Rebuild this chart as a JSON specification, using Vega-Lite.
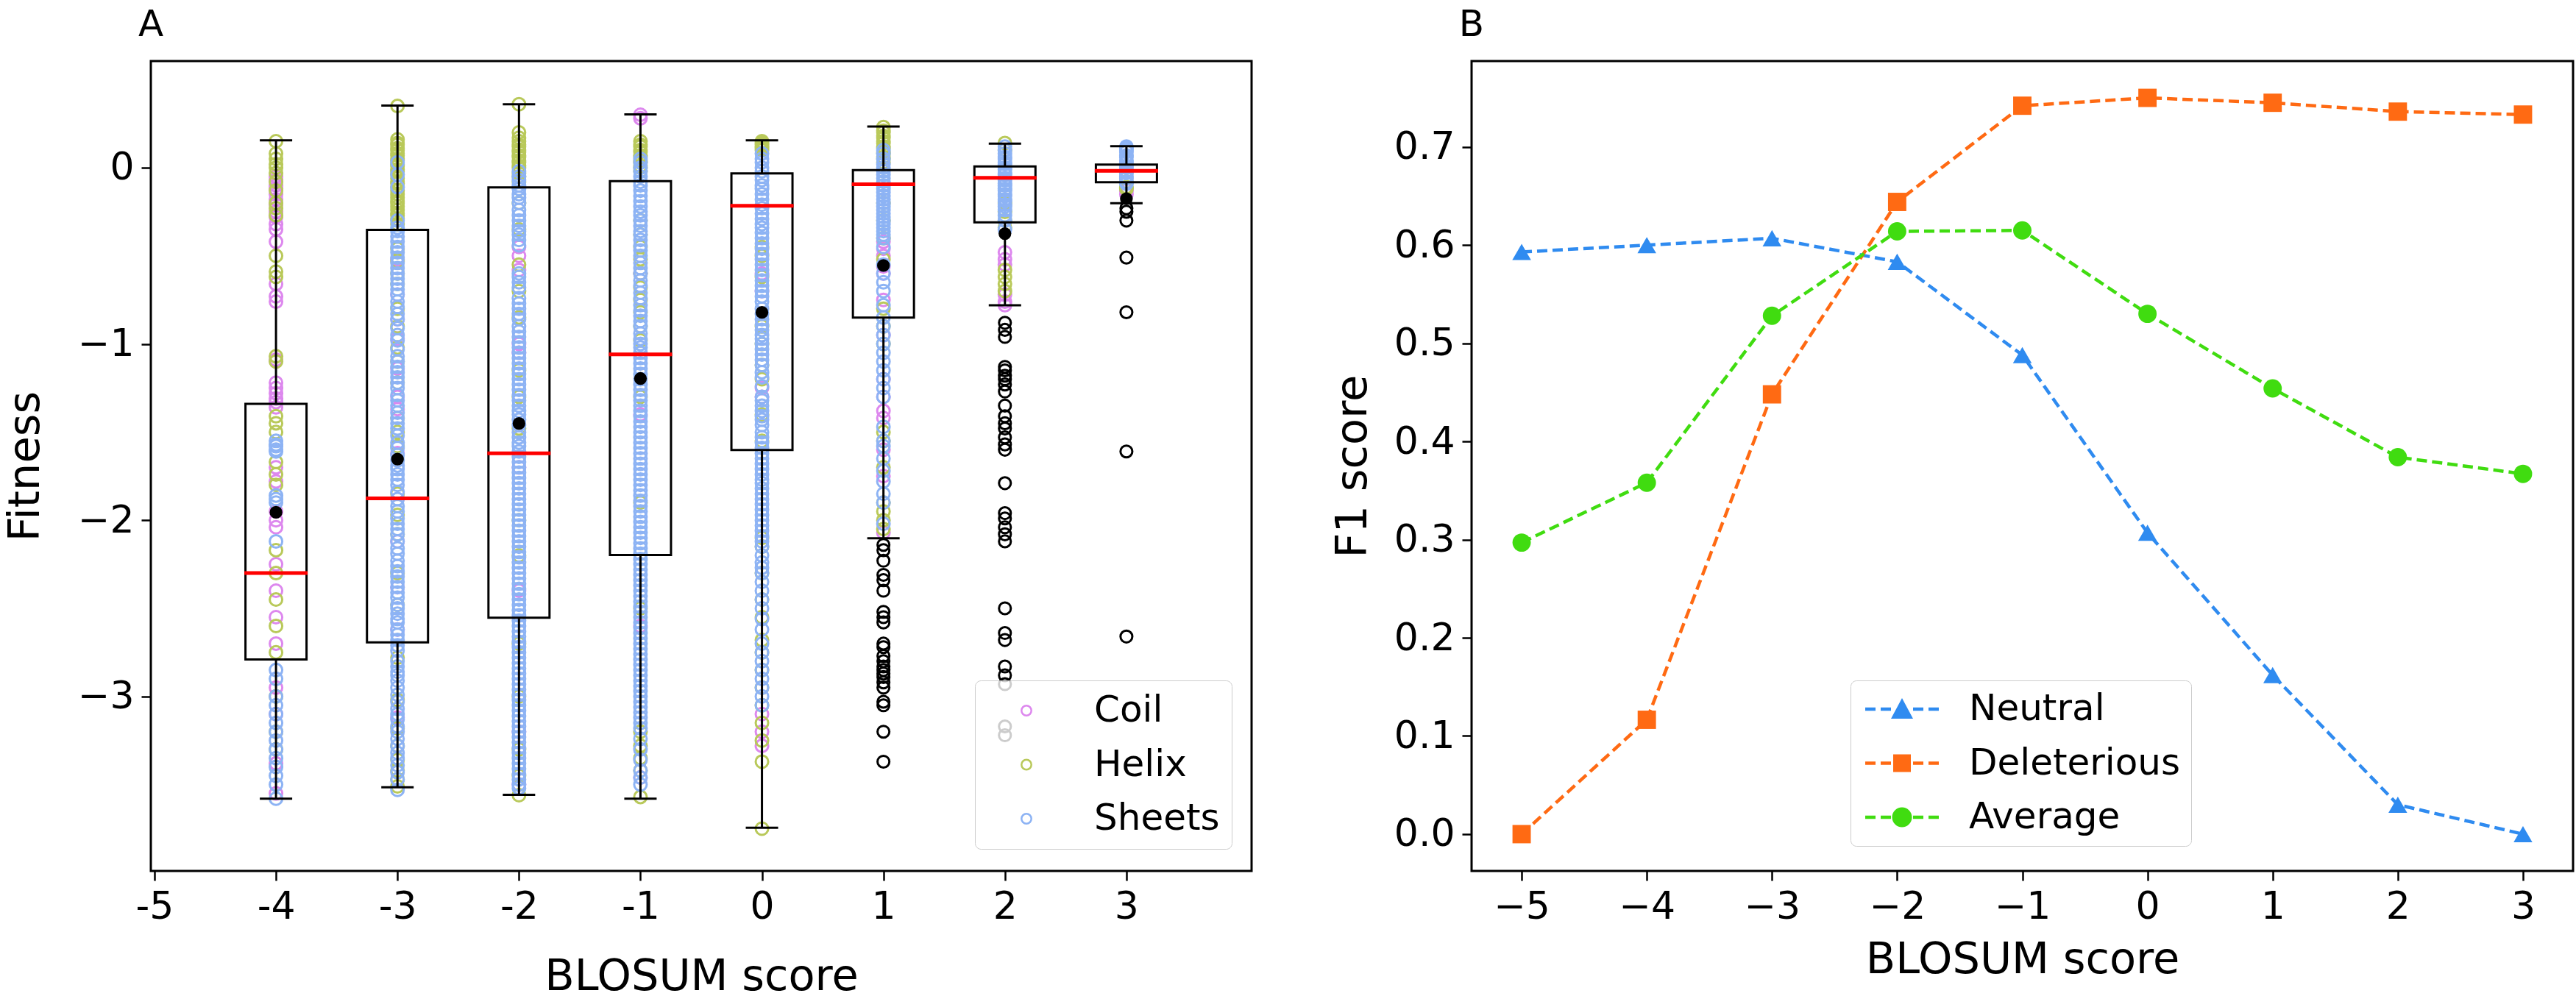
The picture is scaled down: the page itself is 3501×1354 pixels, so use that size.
{
"$schema": "https://vega.github.io/schema/vega-lite/v6.json",
"background": "white",
"padding": {"left": 3, "top": 7, "right": 0, "bottom": 0},
"config": {
  "font": "DejaVu Sans",
  "view": {"stroke": "black", "strokeWidth": 3},
  "axis": {"domain": false, "grid": false, "ticks": true, "tickColor": "black", "tickWidth": 2.5, "tickSize": 13, "labelPadding": 10, "labelFontSize": 52, "labelColor": "black", "labelFont": "DejaVu Sans", "titleFont": "DejaVu Sans", "titleFontSize": 59, "titleFontWeight": "normal", "titleColor": "black", "labelFlush": false, "labelOverlap": false, "labelBound": false},
  "legend": {"labelFont": "DejaVu Sans", "labelColor": "black", "labelFontSize": 50, "labelLimit": 800}
},
"resolve": {"scale": {"color": "independent", "shape": "independent"}, "legend": {"color": "independent", "shape": "independent"}},
"datasets": {
"box": [
{"b":-4,"whi":0.155,"q3":-1.34,"med":-2.30,"q1":-2.79,"wlo":-3.58,"mean":-1.955},
{"b":-3,"whi":0.353,"q3":-0.353,"med":-1.876,"q1":-2.693,"wlo":-3.515,"mean":-1.653},
{"b":-2,"whi":0.36,"q3":-0.112,"med":-1.62,"q1":-2.553,"wlo":-3.558,"mean":-1.451},
{"b":-1,"whi":0.302,"q3":-0.076,"med":-1.059,"q1":-2.197,"wlo":-3.58,"mean":-1.196},
{"b":0,"whi":0.155,"q3":-0.032,"med":-0.216,"q1":-1.602,"wlo":-3.745,"mean":-0.821},
{"b":1,"whi":0.234,"q3":-0.014,"med":-0.094,"q1":-0.85,"wlo":-2.103,"mean":-0.555},
{"b":2,"whi":0.137,"q3":0.007,"med":-0.058,"q1":-0.31,"wlo":-0.781,"mean":-0.374},
{"b":3,"whi":0.122,"q3":0.018,"med":-0.018,"q1":-0.083,"wlo":-0.202,"mean":-0.176}
],
"fl": [
{"b":1,"f":-2.14},{"b":1,"f":-2.17},{"b":1,"f":-2.23},{"b":1,"f":-2.31},{"b":1,"f":-2.34},{"b":1,"f":-2.4},{"b":1,"f":-2.52},{"b":1,"f":-2.55},{"b":1,"f":-2.58},{"b":1,"f":-2.7},{"b":1,"f":-2.72},{"b":1,"f":-2.77},{"b":1,"f":-2.8},{"b":1,"f":-2.83},{"b":1,"f":-2.85},{"b":1,"f":-2.87},{"b":1,"f":-2.89},{"b":1,"f":-2.92},{"b":1,"f":-2.95},{"b":1,"f":-3.03},{"b":1,"f":-3.05},{"b":1,"f":-3.2},{"b":1,"f":-3.37},
{"b":2,"f":-0.88},{"b":2,"f":-0.92},{"b":2,"f":-0.96},{"b":2,"f":-1.13},{"b":2,"f":-1.15},{"b":2,"f":-1.18},{"b":2,"f":-1.2},{"b":2,"f":-1.23},{"b":2,"f":-1.27},{"b":2,"f":-1.35},{"b":2,"f":-1.41},{"b":2,"f":-1.45},{"b":2,"f":-1.48},{"b":2,"f":-1.53},{"b":2,"f":-1.57},{"b":2,"f":-1.6},{"b":2,"f":-1.79},{"b":2,"f":-1.96},{"b":2,"f":-1.99},{"b":2,"f":-2.04},{"b":2,"f":-2.08},{"b":2,"f":-2.12},{"b":2,"f":-2.5},{"b":2,"f":-2.64},{"b":2,"f":-2.68},{"b":2,"f":-2.83},{"b":2,"f":-2.88},{"b":2,"f":-2.93},{"b":2,"f":-3.17},{"b":2,"f":-3.22},
{"b":3,"f":-0.23},{"b":3,"f":-0.25},{"b":3,"f":-0.3},{"b":3,"f":-0.51},{"b":3,"f":-0.82},{"b":3,"f":-1.61},{"b":3,"f":-2.66}
],
"f1": [
{"b":-5,"series":"Neutral","f1":0.593},{"b":-4,"series":"Neutral","f1":0.600},{"b":-3,"series":"Neutral","f1":0.607},{"b":-2,"series":"Neutral","f1":0.583},{"b":-1,"series":"Neutral","f1":0.488},{"b":0,"series":"Neutral","f1":0.307},{"b":1,"series":"Neutral","f1":0.162},{"b":2,"series":"Neutral","f1":0.030},{"b":3,"series":"Neutral","f1":0.000},
{"b":-5,"series":"Deleterious","f1":0.000},{"b":-4,"series":"Deleterious","f1":0.1165},{"b":-3,"series":"Deleterious","f1":0.448},{"b":-2,"series":"Deleterious","f1":0.644},{"b":-1,"series":"Deleterious","f1":0.742},{"b":0,"series":"Deleterious","f1":0.750},{"b":1,"series":"Deleterious","f1":0.745},{"b":2,"series":"Deleterious","f1":0.736},{"b":3,"series":"Deleterious","f1":0.733},
{"b":-5,"series":"Average","f1":0.297},{"b":-4,"series":"Average","f1":0.358},{"b":-3,"series":"Average","f1":0.528},{"b":-2,"series":"Average","f1":0.614},{"b":-1,"series":"Average","f1":0.615},{"b":0,"series":"Average","f1":0.530},{"b":1,"series":"Average","f1":0.454},{"b":2,"series":"Average","f1":0.384},{"b":3,"series":"Average","f1":0.367}
],
"pts": [
{"b":-4,"s":"Coil","f":-0.05},{"b":-4,"s":"Coil","f":-0.07},{"b":-4,"s":"Coil","f":-0.1},{"b":-4,"s":"Coil","f":-0.12},{"b":-4,"s":"Coil","f":-0.15},{"b":-4,"s":"Coil","f":-0.18},{"b":-4,"s":"Coil","f":-0.21},{"b":-4,"s":"Coil","f":-0.25},{"b":-4,"s":"Coil","f":-0.28},{"b":-4,"s":"Coil","f":-0.32},{"b":-4,"s":"Coil","f":-0.35},{"b":-4,"s":"Coil","f":-0.42},{"b":-4,"s":"Coil","f":-0.66},{"b":-4,"s":"Coil","f":-0.73},{"b":-4,"s":"Coil","f":-0.76},{"b":-4,"s":"Coil","f":-1.09},{"b":-4,"s":"Coil","f":-1.22},{"b":-4,"s":"Coil","f":-1.25},{"b":-4,"s":"Coil","f":-1.28},{"b":-4,"s":"Coil","f":-1.31},{"b":-4,"s":"Coil","f":-1.33},{"b":-4,"s":"Coil","f":-1.36},{"b":-4,"s":"Coil","f":-1.7},{"b":-4,"s":"Coil","f":-1.78},{"b":-4,"s":"Coil","f":-1.95},{"b":-4,"s":"Coil","f":-2.0},{"b":-4,"s":"Coil","f":-2.04},{"b":-4,"s":"Coil","f":-2.25},{"b":-4,"s":"Coil","f":-2.4},{"b":-4,"s":"Coil","f":-2.55},{"b":-4,"s":"Coil","f":-2.7},{"b":-4,"s":"Coil","f":-2.95},{"b":-4,"s":"Coil","f":-3.1},{"b":-4,"s":"Coil","f":-3.38},{"b":-4,"s":"Coil","f":-3.55},
{"b":-3,"s":"Coil","f":-0.52},{"b":-3,"s":"Coil","f":-0.72},{"b":-3,"s":"Coil","f":-0.86},{"b":-3,"s":"Coil","f":-0.97},{"b":-3,"s":"Coil","f":-1.14},{"b":-3,"s":"Coil","f":-1.3},{"b":-3,"s":"Coil","f":-1.37},{"b":-3,"s":"Coil","f":-1.62},{"b":-3,"s":"Coil","f":-2.12},{"b":-3,"s":"Coil","f":-2.38},{"b":-3,"s":"Coil","f":-2.62},{"b":-3,"s":"Coil","f":-3.12},
{"b":-2,"s":"Coil","f":-0.45},{"b":-2,"s":"Coil","f":-0.5},{"b":-2,"s":"Coil","f":-0.58},{"b":-2,"s":"Coil","f":-1.0},{"b":-2,"s":"Coil","f":-1.05},{"b":-2,"s":"Coil","f":-1.7},{"b":-2,"s":"Coil","f":-2.4},{"b":-2,"s":"Coil","f":-3.2},{"b":-2,"s":"Coil","f":-3.5},
{"b":-1,"s":"Coil","f":0.3},{"b":-1,"s":"Coil","f":0.28},{"b":-1,"s":"Coil","f":-0.6},{"b":-1,"s":"Coil","f":-1.4},{"b":-1,"s":"Coil","f":-2.6},{"b":-1,"s":"Coil","f":-3.46},
{"b":0,"s":"Coil","f":-0.6},{"b":0,"s":"Coil","f":-0.7},{"b":0,"s":"Coil","f":-1.25},{"b":0,"s":"Coil","f":-1.3},{"b":0,"s":"Coil","f":-3.1},{"b":0,"s":"Coil","f":-3.2},{"b":0,"s":"Coil","f":-3.28},
{"b":1,"s":"Coil","f":-0.42},{"b":1,"s":"Coil","f":-0.46},{"b":1,"s":"Coil","f":-0.5},{"b":1,"s":"Coil","f":-0.56},{"b":1,"s":"Coil","f":-0.6},{"b":1,"s":"Coil","f":-0.75},{"b":1,"s":"Coil","f":-0.95},{"b":1,"s":"Coil","f":-1.2},{"b":1,"s":"Coil","f":-1.3},{"b":1,"s":"Coil","f":-1.38},{"b":1,"s":"Coil","f":-1.42},{"b":1,"s":"Coil","f":-1.6},{"b":1,"s":"Coil","f":-1.75},{"b":1,"s":"Coil","f":-2.07},
{"b":2,"s":"Coil","f":-0.48},{"b":2,"s":"Coil","f":-0.52},{"b":2,"s":"Coil","f":-0.55},{"b":2,"s":"Coil","f":-0.72},{"b":2,"s":"Coil","f":-0.76},{"b":2,"s":"Coil","f":-0.78},
{"b":3,"s":"Coil","f":-0.13},{"b":3,"s":"Coil","f":-0.15},
{"b":-4,"s":"Helix","f":0.15},{"b":-4,"s":"Helix","f":0.08},{"b":-4,"s":"Helix","f":0.05},{"b":-4,"s":"Helix","f":0.02},{"b":-4,"s":"Helix","f":0.0},{"b":-4,"s":"Helix","f":-0.03},{"b":-4,"s":"Helix","f":-0.08},{"b":-4,"s":"Helix","f":-0.13},{"b":-4,"s":"Helix","f":-0.2},{"b":-4,"s":"Helix","f":-0.23},{"b":-4,"s":"Helix","f":-0.27},{"b":-4,"s":"Helix","f":-0.5},{"b":-4,"s":"Helix","f":-0.59},{"b":-4,"s":"Helix","f":-0.62},{"b":-4,"s":"Helix","f":-1.07},{"b":-4,"s":"Helix","f":-1.1},{"b":-4,"s":"Helix","f":-1.41},{"b":-4,"s":"Helix","f":-1.45},{"b":-4,"s":"Helix","f":-1.5},{"b":-4,"s":"Helix","f":-1.67},{"b":-4,"s":"Helix","f":-1.74},{"b":-4,"s":"Helix","f":-1.8},{"b":-4,"s":"Helix","f":-2.17},{"b":-4,"s":"Helix","f":-2.3},{"b":-4,"s":"Helix","f":-2.45},{"b":-4,"s":"Helix","f":-2.6},{"b":-4,"s":"Helix","f":-2.75},{"b":-4,"s":"Helix","f":-3.0},{"b":-4,"s":"Helix","f":-3.2},{"b":-4,"s":"Helix","f":-3.3},
{"b":-3,"s":"Helix","f":0.35},{"b":-3,"s":"Helix","f":0.16},{"b":-3,"s":"Helix","f":0.14},{"b":-3,"s":"Helix","f":0.13},{"b":-3,"s":"Helix","f":0.11},{"b":-3,"s":"Helix","f":0.1},{"b":-3,"s":"Helix","f":0.08},{"b":-3,"s":"Helix","f":0.07},{"b":-3,"s":"Helix","f":0.05},{"b":-3,"s":"Helix","f":0.04},{"b":-3,"s":"Helix","f":0.02},{"b":-3,"s":"Helix","f":0.01},{"b":-3,"s":"Helix","f":-0.01},{"b":-3,"s":"Helix","f":-0.02},{"b":-3,"s":"Helix","f":-0.04},{"b":-3,"s":"Helix","f":-0.06},{"b":-3,"s":"Helix","f":-0.08},{"b":-3,"s":"Helix","f":-0.09},{"b":-3,"s":"Helix","f":-0.11},{"b":-3,"s":"Helix","f":-0.13},{"b":-3,"s":"Helix","f":-0.15},{"b":-3,"s":"Helix","f":-0.17},{"b":-3,"s":"Helix","f":-0.19},{"b":-3,"s":"Helix","f":-0.2},{"b":-3,"s":"Helix","f":-0.22},{"b":-3,"s":"Helix","f":-0.24},{"b":-3,"s":"Helix","f":-0.26},{"b":-3,"s":"Helix","f":-0.27},{"b":-3,"s":"Helix","f":-0.29},{"b":-3,"s":"Helix","f":-0.32},{"b":-3,"s":"Helix","f":-0.46},{"b":-3,"s":"Helix","f":-0.53},{"b":-3,"s":"Helix","f":-0.6},{"b":-3,"s":"Helix","f":-0.66},{"b":-3,"s":"Helix","f":-0.8},{"b":-3,"s":"Helix","f":-0.9},{"b":-3,"s":"Helix","f":-1.02},{"b":-3,"s":"Helix","f":-1.1},{"b":-3,"s":"Helix","f":-1.22},{"b":-3,"s":"Helix","f":-1.42},{"b":-3,"s":"Helix","f":-1.5},{"b":-3,"s":"Helix","f":-1.58},{"b":-3,"s":"Helix","f":-1.85},{"b":-3,"s":"Helix","f":-1.97},{"b":-3,"s":"Helix","f":-2.08},{"b":-3,"s":"Helix","f":-2.3},{"b":-3,"s":"Helix","f":-2.48},{"b":-3,"s":"Helix","f":-2.78},{"b":-3,"s":"Helix","f":-3.02},{"b":-3,"s":"Helix","f":-3.18},{"b":-3,"s":"Helix","f":-3.28},{"b":-3,"s":"Helix","f":-3.36},{"b":-3,"s":"Helix","f":-3.42},{"b":-3,"s":"Helix","f":-3.47},{"b":-3,"s":"Helix","f":-3.51},
{"b":-2,"s":"Helix","f":0.36},{"b":-2,"s":"Helix","f":0.2},{"b":-2,"s":"Helix","f":0.17},{"b":-2,"s":"Helix","f":0.15},{"b":-2,"s":"Helix","f":0.13},{"b":-2,"s":"Helix","f":0.12},{"b":-2,"s":"Helix","f":0.1},{"b":-2,"s":"Helix","f":0.09},{"b":-2,"s":"Helix","f":0.07},{"b":-2,"s":"Helix","f":0.06},{"b":-2,"s":"Helix","f":0.04},{"b":-2,"s":"Helix","f":0.03},{"b":-2,"s":"Helix","f":0.01},{"b":-2,"s":"Helix","f":0.0},{"b":-2,"s":"Helix","f":-0.03},{"b":-2,"s":"Helix","f":-0.05},{"b":-2,"s":"Helix","f":-0.08},{"b":-2,"s":"Helix","f":-0.2},{"b":-2,"s":"Helix","f":-0.35},{"b":-2,"s":"Helix","f":-0.55},{"b":-2,"s":"Helix","f":-0.7},{"b":-2,"s":"Helix","f":-0.85},{"b":-2,"s":"Helix","f":-1.15},{"b":-2,"s":"Helix","f":-1.3},{"b":-2,"s":"Helix","f":-1.48},{"b":-2,"s":"Helix","f":-2.0},{"b":-2,"s":"Helix","f":-2.2},{"b":-2,"s":"Helix","f":-2.7},{"b":-2,"s":"Helix","f":-3.0},{"b":-2,"s":"Helix","f":-3.3},{"b":-2,"s":"Helix","f":-3.45},{"b":-2,"s":"Helix","f":-3.56},
{"b":-1,"s":"Helix","f":0.15},{"b":-1,"s":"Helix","f":0.13},{"b":-1,"s":"Helix","f":0.12},{"b":-1,"s":"Helix","f":0.1},{"b":-1,"s":"Helix","f":0.09},{"b":-1,"s":"Helix","f":0.07},{"b":-1,"s":"Helix","f":0.06},{"b":-1,"s":"Helix","f":0.04},{"b":-1,"s":"Helix","f":0.03},{"b":-1,"s":"Helix","f":0.01},{"b":-1,"s":"Helix","f":0.0},{"b":-1,"s":"Helix","f":-0.02},{"b":-1,"s":"Helix","f":-0.3},{"b":-1,"s":"Helix","f":-0.38},{"b":-1,"s":"Helix","f":-0.45},{"b":-1,"s":"Helix","f":-0.52},{"b":-1,"s":"Helix","f":-0.6},{"b":-1,"s":"Helix","f":-0.68},{"b":-1,"s":"Helix","f":-0.75},{"b":-1,"s":"Helix","f":-0.82},{"b":-1,"s":"Helix","f":-0.9},{"b":-1,"s":"Helix","f":-0.98},{"b":-1,"s":"Helix","f":-1.3},{"b":-1,"s":"Helix","f":-1.9},{"b":-1,"s":"Helix","f":-2.5},{"b":-1,"s":"Helix","f":-3.2},{"b":-1,"s":"Helix","f":-3.28},{"b":-1,"s":"Helix","f":-3.35},{"b":-1,"s":"Helix","f":-3.42},{"b":-1,"s":"Helix","f":-3.57},
{"b":0,"s":"Helix","f":0.15},{"b":0,"s":"Helix","f":0.14},{"b":0,"s":"Helix","f":0.13},{"b":0,"s":"Helix","f":0.12},{"b":0,"s":"Helix","f":0.11},{"b":0,"s":"Helix","f":0.1},{"b":0,"s":"Helix","f":-0.45},{"b":0,"s":"Helix","f":-0.5},{"b":0,"s":"Helix","f":-0.62},{"b":0,"s":"Helix","f":-0.9},{"b":0,"s":"Helix","f":-1.0},{"b":0,"s":"Helix","f":-1.12},{"b":0,"s":"Helix","f":-1.2},{"b":0,"s":"Helix","f":-1.4},{"b":0,"s":"Helix","f":-1.55},{"b":0,"s":"Helix","f":-2.1},{"b":0,"s":"Helix","f":-2.15},{"b":0,"s":"Helix","f":-2.3},{"b":0,"s":"Helix","f":-2.45},{"b":0,"s":"Helix","f":-2.55},{"b":0,"s":"Helix","f":-2.68},{"b":0,"s":"Helix","f":-2.75},{"b":0,"s":"Helix","f":-2.85},{"b":0,"s":"Helix","f":-2.95},{"b":0,"s":"Helix","f":-3.05},{"b":0,"s":"Helix","f":-3.15},{"b":0,"s":"Helix","f":-3.25},{"b":0,"s":"Helix","f":-3.37},{"b":0,"s":"Helix","f":-3.75},
{"b":1,"s":"Helix","f":0.23},{"b":1,"s":"Helix","f":0.21},{"b":1,"s":"Helix","f":0.2},{"b":1,"s":"Helix","f":0.18},{"b":1,"s":"Helix","f":0.17},{"b":1,"s":"Helix","f":0.15},{"b":1,"s":"Helix","f":0.14},{"b":1,"s":"Helix","f":0.12},{"b":1,"s":"Helix","f":0.11},{"b":1,"s":"Helix","f":0.09},{"b":1,"s":"Helix","f":0.08},{"b":1,"s":"Helix","f":0.06},{"b":1,"s":"Helix","f":0.05},{"b":1,"s":"Helix","f":0.03},{"b":1,"s":"Helix","f":-0.2},{"b":1,"s":"Helix","f":-0.3},{"b":1,"s":"Helix","f":-0.4},{"b":1,"s":"Helix","f":-0.52},{"b":1,"s":"Helix","f":-0.8},{"b":1,"s":"Helix","f":-0.9},{"b":1,"s":"Helix","f":-1.0},{"b":1,"s":"Helix","f":-1.5},{"b":1,"s":"Helix","f":-1.55},{"b":1,"s":"Helix","f":-1.7},{"b":1,"s":"Helix","f":-1.9},{"b":1,"s":"Helix","f":-1.95},{"b":1,"s":"Helix","f":-2.0},{"b":1,"s":"Helix","f":-2.05},
{"b":2,"s":"Helix","f":0.14},{"b":2,"s":"Helix","f":0.1},{"b":2,"s":"Helix","f":-0.2},{"b":2,"s":"Helix","f":-0.25},{"b":2,"s":"Helix","f":-0.3},{"b":2,"s":"Helix","f":-0.34},{"b":2,"s":"Helix","f":-0.58},{"b":2,"s":"Helix","f":-0.62},{"b":2,"s":"Helix","f":-0.66},{"b":2,"s":"Helix","f":-0.7},
{"b":3,"s":"Helix","f":-0.08},{"b":3,"s":"Helix","f":-0.11},{"b":3,"s":"Helix","f":-0.12},
{"b":-4,"s":"Sheets","f":-1.55},{"b":-4,"s":"Sheets","f":-1.57},{"b":-4,"s":"Sheets","f":-1.58},{"b":-4,"s":"Sheets","f":-1.6},{"b":-4,"s":"Sheets","f":-1.61},{"b":-4,"s":"Sheets","f":-1.86},{"b":-4,"s":"Sheets","f":-1.88},{"b":-4,"s":"Sheets","f":-1.9},{"b":-4,"s":"Sheets","f":-2.12},{"b":-4,"s":"Sheets","f":-2.85},{"b":-4,"s":"Sheets","f":-2.9},{"b":-4,"s":"Sheets","f":-3.0},{"b":-4,"s":"Sheets","f":-3.05},{"b":-4,"s":"Sheets","f":-3.1},{"b":-4,"s":"Sheets","f":-3.15},{"b":-4,"s":"Sheets","f":-3.2},{"b":-4,"s":"Sheets","f":-3.25},{"b":-4,"s":"Sheets","f":-3.3},{"b":-4,"s":"Sheets","f":-3.35},{"b":-4,"s":"Sheets","f":-3.4},{"b":-4,"s":"Sheets","f":-3.45},{"b":-4,"s":"Sheets","f":-3.5},{"b":-4,"s":"Sheets","f":-3.58},
{"b":-3,"s":"Sheets","f":0.03},{"b":-3,"s":"Sheets","f":-0.04},{"b":-3,"s":"Sheets","f":-0.11},{"b":-3,"s":"Sheets","f":-0.3},{"b":-3,"s":"Sheets","f":-0.34},{"b":-3,"s":"Sheets","f":-0.36},{"b":-3,"s":"Sheets","f":-0.39},{"b":-3,"s":"Sheets","f":-0.42},{"b":-3,"s":"Sheets","f":-0.45},{"b":-3,"s":"Sheets","f":-0.48},{"b":-3,"s":"Sheets","f":-0.51},{"b":-3,"s":"Sheets","f":-0.54},{"b":-3,"s":"Sheets","f":-0.57},{"b":-3,"s":"Sheets","f":-0.6},{"b":-3,"s":"Sheets","f":-0.63},{"b":-3,"s":"Sheets","f":-0.66},{"b":-3,"s":"Sheets","f":-0.69},{"b":-3,"s":"Sheets","f":-0.72},{"b":-3,"s":"Sheets","f":-0.76},{"b":-3,"s":"Sheets","f":-0.79},{"b":-3,"s":"Sheets","f":-0.83},{"b":-3,"s":"Sheets","f":-0.86},{"b":-3,"s":"Sheets","f":-0.91},{"b":-3,"s":"Sheets","f":-0.95},{"b":-3,"s":"Sheets","f":-0.98},{"b":-3,"s":"Sheets","f":-1.03},{"b":-3,"s":"Sheets","f":-1.07},{"b":-3,"s":"Sheets","f":-1.1},{"b":-3,"s":"Sheets","f":-1.13},{"b":-3,"s":"Sheets","f":-1.16},{"b":-3,"s":"Sheets","f":-1.19},{"b":-3,"s":"Sheets","f":-1.22},{"b":-3,"s":"Sheets","f":-1.25},{"b":-3,"s":"Sheets","f":-1.29},{"b":-3,"s":"Sheets","f":-1.32},{"b":-3,"s":"Sheets","f":-1.35},{"b":-3,"s":"Sheets","f":-1.39},{"b":-3,"s":"Sheets","f":-1.42},{"b":-3,"s":"Sheets","f":-1.45},{"b":-3,"s":"Sheets","f":-1.48},{"b":-3,"s":"Sheets","f":-1.52},{"b":-3,"s":"Sheets","f":-1.56},{"b":-3,"s":"Sheets","f":-1.59},{"b":-3,"s":"Sheets","f":-1.63},{"b":-3,"s":"Sheets","f":-1.66},{"b":-3,"s":"Sheets","f":-1.69},{"b":-3,"s":"Sheets","f":-1.71},{"b":-3,"s":"Sheets","f":-1.74},{"b":-3,"s":"Sheets","f":-1.77},{"b":-3,"s":"Sheets","f":-1.8},{"b":-3,"s":"Sheets","f":-1.84},{"b":-3,"s":"Sheets","f":-1.88},{"b":-3,"s":"Sheets","f":-1.92},{"b":-3,"s":"Sheets","f":-1.95},{"b":-3,"s":"Sheets","f":-1.99},{"b":-3,"s":"Sheets","f":-2.02},{"b":-3,"s":"Sheets","f":-2.05},{"b":-3,"s":"Sheets","f":-2.08},{"b":-3,"s":"Sheets","f":-2.12},{"b":-3,"s":"Sheets","f":-2.16},{"b":-3,"s":"Sheets","f":-2.19},{"b":-3,"s":"Sheets","f":-2.23},{"b":-3,"s":"Sheets","f":-2.26},{"b":-3,"s":"Sheets","f":-2.29},{"b":-3,"s":"Sheets","f":-2.32},{"b":-3,"s":"Sheets","f":-2.35},{"b":-3,"s":"Sheets","f":-2.38},{"b":-3,"s":"Sheets","f":-2.41},{"b":-3,"s":"Sheets","f":-2.44},{"b":-3,"s":"Sheets","f":-2.48},{"b":-3,"s":"Sheets","f":-2.5},{"b":-3,"s":"Sheets","f":-2.53},{"b":-3,"s":"Sheets","f":-2.56},{"b":-3,"s":"Sheets","f":-2.58},{"b":-3,"s":"Sheets","f":-2.62},{"b":-3,"s":"Sheets","f":-2.65},{"b":-3,"s":"Sheets","f":-2.68},{"b":-3,"s":"Sheets","f":-2.71},{"b":-3,"s":"Sheets","f":-2.74},{"b":-3,"s":"Sheets","f":-2.8},{"b":-3,"s":"Sheets","f":-2.83},{"b":-3,"s":"Sheets","f":-2.86},{"b":-3,"s":"Sheets","f":-2.88},{"b":-3,"s":"Sheets","f":-2.91},{"b":-3,"s":"Sheets","f":-2.95},{"b":-3,"s":"Sheets","f":-2.99},{"b":-3,"s":"Sheets","f":-3.03},{"b":-3,"s":"Sheets","f":-3.07},{"b":-3,"s":"Sheets","f":-3.1},{"b":-3,"s":"Sheets","f":-3.13},{"b":-3,"s":"Sheets","f":-3.17},{"b":-3,"s":"Sheets","f":-3.2},{"b":-3,"s":"Sheets","f":-3.24},{"b":-3,"s":"Sheets","f":-3.28},{"b":-3,"s":"Sheets","f":-3.32},{"b":-3,"s":"Sheets","f":-3.35},{"b":-3,"s":"Sheets","f":-3.39},{"b":-3,"s":"Sheets","f":-3.43},{"b":-3,"s":"Sheets","f":-3.47},{"b":-3,"s":"Sheets","f":-3.53},
{"b":-2,"s":"Sheets","f":-0.02},{"b":-2,"s":"Sheets","f":-0.05},{"b":-2,"s":"Sheets","f":-0.07},{"b":-2,"s":"Sheets","f":-0.1},{"b":-2,"s":"Sheets","f":-0.12},{"b":-2,"s":"Sheets","f":-0.15},{"b":-2,"s":"Sheets","f":-0.17},{"b":-2,"s":"Sheets","f":-0.2},{"b":-2,"s":"Sheets","f":-0.24},{"b":-2,"s":"Sheets","f":-0.27},{"b":-2,"s":"Sheets","f":-0.3},{"b":-2,"s":"Sheets","f":-0.33},{"b":-2,"s":"Sheets","f":-0.36},{"b":-2,"s":"Sheets","f":-0.38},{"b":-2,"s":"Sheets","f":-0.41},{"b":-2,"s":"Sheets","f":-0.44},{"b":-2,"s":"Sheets","f":-0.6},{"b":-2,"s":"Sheets","f":-0.62},{"b":-2,"s":"Sheets","f":-0.65},{"b":-2,"s":"Sheets","f":-0.68},{"b":-2,"s":"Sheets","f":-0.74},{"b":-2,"s":"Sheets","f":-0.77},{"b":-2,"s":"Sheets","f":-0.8},{"b":-2,"s":"Sheets","f":-0.83},{"b":-2,"s":"Sheets","f":-0.86},{"b":-2,"s":"Sheets","f":-0.9},{"b":-2,"s":"Sheets","f":-0.93},{"b":-2,"s":"Sheets","f":-0.96},{"b":-2,"s":"Sheets","f":-0.99},{"b":-2,"s":"Sheets","f":-1.02},{"b":-2,"s":"Sheets","f":-1.05},{"b":-2,"s":"Sheets","f":-1.08},{"b":-2,"s":"Sheets","f":-1.11},{"b":-2,"s":"Sheets","f":-1.14},{"b":-2,"s":"Sheets","f":-1.17},{"b":-2,"s":"Sheets","f":-1.2},{"b":-2,"s":"Sheets","f":-1.23},{"b":-2,"s":"Sheets","f":-1.26},{"b":-2,"s":"Sheets","f":-1.29},{"b":-2,"s":"Sheets","f":-1.32},{"b":-2,"s":"Sheets","f":-1.35},{"b":-2,"s":"Sheets","f":-1.38},{"b":-2,"s":"Sheets","f":-1.4},{"b":-2,"s":"Sheets","f":-1.43},{"b":-2,"s":"Sheets","f":-1.46},{"b":-2,"s":"Sheets","f":-1.5},{"b":-2,"s":"Sheets","f":-1.53},{"b":-2,"s":"Sheets","f":-1.56},{"b":-2,"s":"Sheets","f":-1.58},{"b":-2,"s":"Sheets","f":-1.61},{"b":-2,"s":"Sheets","f":-1.64},{"b":-2,"s":"Sheets","f":-1.67},{"b":-2,"s":"Sheets","f":-1.7},{"b":-2,"s":"Sheets","f":-1.73},{"b":-2,"s":"Sheets","f":-1.76},{"b":-2,"s":"Sheets","f":-1.79},{"b":-2,"s":"Sheets","f":-1.82},{"b":-2,"s":"Sheets","f":-1.85},{"b":-2,"s":"Sheets","f":-1.88},{"b":-2,"s":"Sheets","f":-1.91},{"b":-2,"s":"Sheets","f":-1.94},{"b":-2,"s":"Sheets","f":-1.97},{"b":-2,"s":"Sheets","f":-2.0},{"b":-2,"s":"Sheets","f":-2.03},{"b":-2,"s":"Sheets","f":-2.06},{"b":-2,"s":"Sheets","f":-2.09},{"b":-2,"s":"Sheets","f":-2.12},{"b":-2,"s":"Sheets","f":-2.15},{"b":-2,"s":"Sheets","f":-2.18},{"b":-2,"s":"Sheets","f":-2.21},{"b":-2,"s":"Sheets","f":-2.24},{"b":-2,"s":"Sheets","f":-2.27},{"b":-2,"s":"Sheets","f":-2.3},{"b":-2,"s":"Sheets","f":-2.33},{"b":-2,"s":"Sheets","f":-2.36},{"b":-2,"s":"Sheets","f":-2.39},{"b":-2,"s":"Sheets","f":-2.42},{"b":-2,"s":"Sheets","f":-2.45},{"b":-2,"s":"Sheets","f":-2.48},{"b":-2,"s":"Sheets","f":-2.51},{"b":-2,"s":"Sheets","f":-2.54},{"b":-2,"s":"Sheets","f":-2.57},{"b":-2,"s":"Sheets","f":-2.6},{"b":-2,"s":"Sheets","f":-2.63},{"b":-2,"s":"Sheets","f":-2.66},{"b":-2,"s":"Sheets","f":-2.69},{"b":-2,"s":"Sheets","f":-2.72},{"b":-2,"s":"Sheets","f":-2.75},{"b":-2,"s":"Sheets","f":-2.78},{"b":-2,"s":"Sheets","f":-2.81},{"b":-2,"s":"Sheets","f":-2.84},{"b":-2,"s":"Sheets","f":-2.87},{"b":-2,"s":"Sheets","f":-2.9},{"b":-2,"s":"Sheets","f":-2.93},{"b":-2,"s":"Sheets","f":-2.96},{"b":-2,"s":"Sheets","f":-2.99},{"b":-2,"s":"Sheets","f":-3.02},{"b":-2,"s":"Sheets","f":-3.05},{"b":-2,"s":"Sheets","f":-3.08},{"b":-2,"s":"Sheets","f":-3.11},{"b":-2,"s":"Sheets","f":-3.14},{"b":-2,"s":"Sheets","f":-3.17},{"b":-2,"s":"Sheets","f":-3.2},{"b":-2,"s":"Sheets","f":-3.23},{"b":-2,"s":"Sheets","f":-3.26},{"b":-2,"s":"Sheets","f":-3.29},{"b":-2,"s":"Sheets","f":-3.32},{"b":-2,"s":"Sheets","f":-3.35},{"b":-2,"s":"Sheets","f":-3.38},{"b":-2,"s":"Sheets","f":-3.41},{"b":-2,"s":"Sheets","f":-3.44},{"b":-2,"s":"Sheets","f":-3.47},{"b":-2,"s":"Sheets","f":-3.5},{"b":-2,"s":"Sheets","f":-3.52},
{"b":-1,"s":"Sheets","f":0.05},{"b":-1,"s":"Sheets","f":0.03},{"b":-1,"s":"Sheets","f":0.0},{"b":-1,"s":"Sheets","f":-0.02},{"b":-1,"s":"Sheets","f":-0.05},{"b":-1,"s":"Sheets","f":-0.08},{"b":-1,"s":"Sheets","f":-0.1},{"b":-1,"s":"Sheets","f":-0.13},{"b":-1,"s":"Sheets","f":-0.16},{"b":-1,"s":"Sheets","f":-0.19},{"b":-1,"s":"Sheets","f":-0.22},{"b":-1,"s":"Sheets","f":-0.25},{"b":-1,"s":"Sheets","f":-0.27},{"b":-1,"s":"Sheets","f":-0.3},{"b":-1,"s":"Sheets","f":-0.33},{"b":-1,"s":"Sheets","f":-0.36},{"b":-1,"s":"Sheets","f":-0.38},{"b":-1,"s":"Sheets","f":-0.41},{"b":-1,"s":"Sheets","f":-0.44},{"b":-1,"s":"Sheets","f":-0.47},{"b":-1,"s":"Sheets","f":-0.5},{"b":-1,"s":"Sheets","f":-0.54},{"b":-1,"s":"Sheets","f":-0.57},{"b":-1,"s":"Sheets","f":-0.6},{"b":-1,"s":"Sheets","f":-0.64},{"b":-1,"s":"Sheets","f":-0.67},{"b":-1,"s":"Sheets","f":-0.71},{"b":-1,"s":"Sheets","f":-0.74},{"b":-1,"s":"Sheets","f":-0.78},{"b":-1,"s":"Sheets","f":-0.81},{"b":-1,"s":"Sheets","f":-0.84},{"b":-1,"s":"Sheets","f":-0.87},{"b":-1,"s":"Sheets","f":-0.9},{"b":-1,"s":"Sheets","f":-0.94},{"b":-1,"s":"Sheets","f":-0.97},{"b":-1,"s":"Sheets","f":-1.0},{"b":-1,"s":"Sheets","f":-1.02},{"b":-1,"s":"Sheets","f":-1.05},{"b":-1,"s":"Sheets","f":-1.08},{"b":-1,"s":"Sheets","f":-1.11},{"b":-1,"s":"Sheets","f":-1.14},{"b":-1,"s":"Sheets","f":-1.17},{"b":-1,"s":"Sheets","f":-1.2},{"b":-1,"s":"Sheets","f":-1.23},{"b":-1,"s":"Sheets","f":-1.26},{"b":-1,"s":"Sheets","f":-1.29},{"b":-1,"s":"Sheets","f":-1.32},{"b":-1,"s":"Sheets","f":-1.35},{"b":-1,"s":"Sheets","f":-1.38},{"b":-1,"s":"Sheets","f":-1.41},{"b":-1,"s":"Sheets","f":-1.44},{"b":-1,"s":"Sheets","f":-1.47},{"b":-1,"s":"Sheets","f":-1.5},{"b":-1,"s":"Sheets","f":-1.53},{"b":-1,"s":"Sheets","f":-1.56},{"b":-1,"s":"Sheets","f":-1.59},{"b":-1,"s":"Sheets","f":-1.62},{"b":-1,"s":"Sheets","f":-1.65},{"b":-1,"s":"Sheets","f":-1.68},{"b":-1,"s":"Sheets","f":-1.71},{"b":-1,"s":"Sheets","f":-1.74},{"b":-1,"s":"Sheets","f":-1.77},{"b":-1,"s":"Sheets","f":-1.8},{"b":-1,"s":"Sheets","f":-1.83},{"b":-1,"s":"Sheets","f":-1.86},{"b":-1,"s":"Sheets","f":-1.89},{"b":-1,"s":"Sheets","f":-1.92},{"b":-1,"s":"Sheets","f":-1.95},{"b":-1,"s":"Sheets","f":-1.98},{"b":-1,"s":"Sheets","f":-2.01},{"b":-1,"s":"Sheets","f":-2.04},{"b":-1,"s":"Sheets","f":-2.07},{"b":-1,"s":"Sheets","f":-2.1},{"b":-1,"s":"Sheets","f":-2.13},{"b":-1,"s":"Sheets","f":-2.16},{"b":-1,"s":"Sheets","f":-2.19},{"b":-1,"s":"Sheets","f":-2.22},{"b":-1,"s":"Sheets","f":-2.25},{"b":-1,"s":"Sheets","f":-2.28},{"b":-1,"s":"Sheets","f":-2.31},{"b":-1,"s":"Sheets","f":-2.34},{"b":-1,"s":"Sheets","f":-2.37},{"b":-1,"s":"Sheets","f":-2.4},{"b":-1,"s":"Sheets","f":-2.43},{"b":-1,"s":"Sheets","f":-2.46},{"b":-1,"s":"Sheets","f":-2.49},{"b":-1,"s":"Sheets","f":-2.52},{"b":-1,"s":"Sheets","f":-2.55},{"b":-1,"s":"Sheets","f":-2.58},{"b":-1,"s":"Sheets","f":-2.61},{"b":-1,"s":"Sheets","f":-2.64},{"b":-1,"s":"Sheets","f":-2.67},{"b":-1,"s":"Sheets","f":-2.7},{"b":-1,"s":"Sheets","f":-2.73},{"b":-1,"s":"Sheets","f":-2.76},{"b":-1,"s":"Sheets","f":-2.79},{"b":-1,"s":"Sheets","f":-2.82},{"b":-1,"s":"Sheets","f":-2.85},{"b":-1,"s":"Sheets","f":-2.88},{"b":-1,"s":"Sheets","f":-2.91},{"b":-1,"s":"Sheets","f":-2.94},{"b":-1,"s":"Sheets","f":-2.97},{"b":-1,"s":"Sheets","f":-3.0},{"b":-1,"s":"Sheets","f":-3.03},{"b":-1,"s":"Sheets","f":-3.06},{"b":-1,"s":"Sheets","f":-3.09},{"b":-1,"s":"Sheets","f":-3.12},{"b":-1,"s":"Sheets","f":-3.15},{"b":-1,"s":"Sheets","f":-3.18},{"b":-1,"s":"Sheets","f":-3.24},{"b":-1,"s":"Sheets","f":-3.3},{"b":-1,"s":"Sheets","f":-3.36},{"b":-1,"s":"Sheets","f":-3.42},{"b":-1,"s":"Sheets","f":-3.46},{"b":-1,"s":"Sheets","f":-3.5},
{"b":0,"s":"Sheets","f":0.08},{"b":0,"s":"Sheets","f":0.05},{"b":0,"s":"Sheets","f":0.03},{"b":0,"s":"Sheets","f":0.0},{"b":0,"s":"Sheets","f":-0.02},{"b":0,"s":"Sheets","f":-0.05},{"b":0,"s":"Sheets","f":-0.07},{"b":0,"s":"Sheets","f":-0.1},{"b":0,"s":"Sheets","f":-0.12},{"b":0,"s":"Sheets","f":-0.15},{"b":0,"s":"Sheets","f":-0.18},{"b":0,"s":"Sheets","f":-0.21},{"b":0,"s":"Sheets","f":-0.23},{"b":0,"s":"Sheets","f":-0.26},{"b":0,"s":"Sheets","f":-0.29},{"b":0,"s":"Sheets","f":-0.32},{"b":0,"s":"Sheets","f":-0.34},{"b":0,"s":"Sheets","f":-0.37},{"b":0,"s":"Sheets","f":-0.4},{"b":0,"s":"Sheets","f":-0.43},{"b":0,"s":"Sheets","f":-0.46},{"b":0,"s":"Sheets","f":-0.49},{"b":0,"s":"Sheets","f":-0.52},{"b":0,"s":"Sheets","f":-0.55},{"b":0,"s":"Sheets","f":-0.58},{"b":0,"s":"Sheets","f":-0.61},{"b":0,"s":"Sheets","f":-0.64},{"b":0,"s":"Sheets","f":-0.67},{"b":0,"s":"Sheets","f":-0.7},{"b":0,"s":"Sheets","f":-0.73},{"b":0,"s":"Sheets","f":-0.76},{"b":0,"s":"Sheets","f":-0.8},{"b":0,"s":"Sheets","f":-0.83},{"b":0,"s":"Sheets","f":-0.86},{"b":0,"s":"Sheets","f":-0.89},{"b":0,"s":"Sheets","f":-0.92},{"b":0,"s":"Sheets","f":-0.95},{"b":0,"s":"Sheets","f":-0.97},{"b":0,"s":"Sheets","f":-1.0},{"b":0,"s":"Sheets","f":-1.03},{"b":0,"s":"Sheets","f":-1.06},{"b":0,"s":"Sheets","f":-1.09},{"b":0,"s":"Sheets","f":-1.12},{"b":0,"s":"Sheets","f":-1.16},{"b":0,"s":"Sheets","f":-1.19},{"b":0,"s":"Sheets","f":-1.24},{"b":0,"s":"Sheets","f":-1.3},{"b":0,"s":"Sheets","f":-1.32},{"b":0,"s":"Sheets","f":-1.35},{"b":0,"s":"Sheets","f":-1.38},{"b":0,"s":"Sheets","f":-1.41},{"b":0,"s":"Sheets","f":-1.43},{"b":0,"s":"Sheets","f":-1.46},{"b":0,"s":"Sheets","f":-1.5},{"b":0,"s":"Sheets","f":-1.53},{"b":0,"s":"Sheets","f":-1.56},{"b":0,"s":"Sheets","f":-1.59},{"b":0,"s":"Sheets","f":-1.62},{"b":0,"s":"Sheets","f":-1.65},{"b":0,"s":"Sheets","f":-1.68},{"b":0,"s":"Sheets","f":-1.71},{"b":0,"s":"Sheets","f":-1.74},{"b":0,"s":"Sheets","f":-1.77},{"b":0,"s":"Sheets","f":-1.79},{"b":0,"s":"Sheets","f":-1.82},{"b":0,"s":"Sheets","f":-1.85},{"b":0,"s":"Sheets","f":-1.88},{"b":0,"s":"Sheets","f":-1.91},{"b":0,"s":"Sheets","f":-1.94},{"b":0,"s":"Sheets","f":-1.97},{"b":0,"s":"Sheets","f":-2.0},{"b":0,"s":"Sheets","f":-2.03},{"b":0,"s":"Sheets","f":-2.06},{"b":0,"s":"Sheets","f":-2.09},{"b":0,"s":"Sheets","f":-2.12},{"b":0,"s":"Sheets","f":-2.15},{"b":0,"s":"Sheets","f":-2.2},{"b":0,"s":"Sheets","f":-2.24},{"b":0,"s":"Sheets","f":-2.27},{"b":0,"s":"Sheets","f":-2.3},{"b":0,"s":"Sheets","f":-2.35},{"b":0,"s":"Sheets","f":-2.4},{"b":0,"s":"Sheets","f":-2.45},{"b":0,"s":"Sheets","f":-2.5},{"b":0,"s":"Sheets","f":-2.56},{"b":0,"s":"Sheets","f":-2.62},{"b":0,"s":"Sheets","f":-2.7},{"b":0,"s":"Sheets","f":-2.75},{"b":0,"s":"Sheets","f":-2.8},{"b":0,"s":"Sheets","f":-2.85},{"b":0,"s":"Sheets","f":-2.9},{"b":0,"s":"Sheets","f":-2.95},{"b":0,"s":"Sheets","f":-3.0},{"b":0,"s":"Sheets","f":-3.05},
{"b":1,"s":"Sheets","f":0.1},{"b":1,"s":"Sheets","f":0.08},{"b":1,"s":"Sheets","f":0.05},{"b":1,"s":"Sheets","f":0.02},{"b":1,"s":"Sheets","f":0.0},{"b":1,"s":"Sheets","f":-0.02},{"b":1,"s":"Sheets","f":-0.04},{"b":1,"s":"Sheets","f":-0.06},{"b":1,"s":"Sheets","f":-0.08},{"b":1,"s":"Sheets","f":-0.1},{"b":1,"s":"Sheets","f":-0.12},{"b":1,"s":"Sheets","f":-0.14},{"b":1,"s":"Sheets","f":-0.16},{"b":1,"s":"Sheets","f":-0.18},{"b":1,"s":"Sheets","f":-0.2},{"b":1,"s":"Sheets","f":-0.22},{"b":1,"s":"Sheets","f":-0.24},{"b":1,"s":"Sheets","f":-0.26},{"b":1,"s":"Sheets","f":-0.28},{"b":1,"s":"Sheets","f":-0.3},{"b":1,"s":"Sheets","f":-0.32},{"b":1,"s":"Sheets","f":-0.34},{"b":1,"s":"Sheets","f":-0.36},{"b":1,"s":"Sheets","f":-0.38},{"b":1,"s":"Sheets","f":-0.4},{"b":1,"s":"Sheets","f":-0.45},{"b":1,"s":"Sheets","f":-0.55},{"b":1,"s":"Sheets","f":-0.6},{"b":1,"s":"Sheets","f":-0.65},{"b":1,"s":"Sheets","f":-0.7},{"b":1,"s":"Sheets","f":-0.78},{"b":1,"s":"Sheets","f":-0.85},{"b":1,"s":"Sheets","f":-0.9},{"b":1,"s":"Sheets","f":-0.95},{"b":1,"s":"Sheets","f":-1.0},{"b":1,"s":"Sheets","f":-1.05},{"b":1,"s":"Sheets","f":-1.1},{"b":1,"s":"Sheets","f":-1.15},{"b":1,"s":"Sheets","f":-1.2},{"b":1,"s":"Sheets","f":-1.25},{"b":1,"s":"Sheets","f":-1.3},{"b":1,"s":"Sheets","f":-1.47},{"b":1,"s":"Sheets","f":-1.55},{"b":1,"s":"Sheets","f":-1.58},{"b":1,"s":"Sheets","f":-1.65},{"b":1,"s":"Sheets","f":-1.72},{"b":1,"s":"Sheets","f":-1.78},{"b":1,"s":"Sheets","f":-1.85},{"b":1,"s":"Sheets","f":-1.9},{"b":1,"s":"Sheets","f":-2.02},
{"b":2,"s":"Sheets","f":0.12},{"b":2,"s":"Sheets","f":0.1},{"b":2,"s":"Sheets","f":0.08},{"b":2,"s":"Sheets","f":0.06},{"b":2,"s":"Sheets","f":0.05},{"b":2,"s":"Sheets","f":0.03},{"b":2,"s":"Sheets","f":0.02},{"b":2,"s":"Sheets","f":0.0},{"b":2,"s":"Sheets","f":-0.01},{"b":2,"s":"Sheets","f":-0.03},{"b":2,"s":"Sheets","f":-0.04},{"b":2,"s":"Sheets","f":-0.06},{"b":2,"s":"Sheets","f":-0.07},{"b":2,"s":"Sheets","f":-0.09},{"b":2,"s":"Sheets","f":-0.1},{"b":2,"s":"Sheets","f":-0.12},{"b":2,"s":"Sheets","f":-0.13},{"b":2,"s":"Sheets","f":-0.15},{"b":2,"s":"Sheets","f":-0.16},{"b":2,"s":"Sheets","f":-0.18},{"b":2,"s":"Sheets","f":-0.19},{"b":2,"s":"Sheets","f":-0.21},{"b":2,"s":"Sheets","f":-0.22},{"b":2,"s":"Sheets","f":-0.24},{"b":2,"s":"Sheets","f":-0.27},{"b":2,"s":"Sheets","f":-0.3},{"b":2,"s":"Sheets","f":-0.35},
{"b":3,"s":"Sheets","f":0.12},{"b":3,"s":"Sheets","f":0.11},{"b":3,"s":"Sheets","f":0.1},{"b":3,"s":"Sheets","f":0.09},{"b":3,"s":"Sheets","f":0.07},{"b":3,"s":"Sheets","f":0.06},{"b":3,"s":"Sheets","f":0.04},{"b":3,"s":"Sheets","f":0.03},{"b":3,"s":"Sheets","f":0.01},{"b":3,"s":"Sheets","f":0.0},{"b":3,"s":"Sheets","f":-0.02},{"b":3,"s":"Sheets","f":-0.03},{"b":3,"s":"Sheets","f":-0.05},{"b":3,"s":"Sheets","f":-0.06},{"b":3,"s":"Sheets","f":-0.08},{"b":3,"s":"Sheets","f":-0.09}
]
},
"bounds": "flush",
"spacing": 299,
"hconcat": [
{
 "width": 1496, "height": 1101,
 "title": {"text": "A", "anchor": "start", "align": "center", "frame": "group", "baseline": "alphabetic", "offset": -16, "fontSize": 50, "fontWeight": "normal", "font": "DejaVu Sans", "color": "black"},
 "layer": [
  {"data": {"name": "pts"},
   "mark": {"type": "point", "filled": false, "size": 290, "strokeWidth": 3, "opacity": 1},
   "encoding": {
    "x": {"field": "b", "type": "quantitative", "scale": {"domain": [-5, 4], "nice": false, "zero": false},
          "axis": {"values": [-5,-4,-3,-2,-1,0,1,2,3], "format": "d", "labelExpr": "replace(datum.label, '\u2212', '-')", "title": "BLOSUM score", "titlePadding": 40}},
    "y": {"field": "f", "type": "quantitative", "scale": {"domain": [-3.99, 0.605], "nice": false, "zero": false},
          "axis": {"values": [-3,-2,-1,0], "format": "d", "title": "Fitness", "minExtent": 100, "maxExtent": 100, "titlePadding": 41}},
    "color": {"field": "s", "type": "nominal", "scale": {"domain": ["Coil","Helix","Sheets"], "range": ["#dd88ee","#b9c95a","#8db3f4"]},
              "legend": {"title": null, "orient": "none", "legendX": 1120, "legendY": 842, "padding": 16, "fillColor": "rgba(255,255,255,0.8)", "strokeColor": "#cccccc", "cornerRadius": 8, "symbolType": "circle", "symbolSize": 180, "symbolStrokeWidth": 2.5, "symbolOffset": 29, "labelOffset": 67, "rowPadding": 23.5}}
   }},
  {"data": {"name": "box"},
   "mark": {"type": "bar", "filled": false, "color": "black", "strokeWidth": 3, "size": 83, "opacity": 1},
   "encoding": {"x": {"field": "b", "type": "quantitative"}, "y": {"field": "q1", "type": "quantitative"}, "y2": {"field": "q3"}}},
  {"data": {"name": "box"},
   "mark": {"type": "rule", "color": "black", "strokeWidth": 3},
   "encoding": {"x": {"field": "b", "type": "quantitative"}, "y": {"field": "q3", "type": "quantitative"}, "y2": {"field": "whi"}}},
  {"data": {"name": "box"},
   "mark": {"type": "rule", "color": "black", "strokeWidth": 3},
   "encoding": {"x": {"field": "b", "type": "quantitative"}, "y": {"field": "q1", "type": "quantitative"}, "y2": {"field": "wlo"}}},
  {"data": {"name": "box"},
   "mark": {"type": "tick", "orient": "horizontal", "color": "black", "thickness": 3, "size": 44, "opacity": 1},
   "encoding": {"x": {"field": "b", "type": "quantitative"}, "y": {"field": "whi", "type": "quantitative"}}},
  {"data": {"name": "box"},
   "mark": {"type": "tick", "orient": "horizontal", "color": "black", "thickness": 3, "size": 44, "opacity": 1},
   "encoding": {"x": {"field": "b", "type": "quantitative"}, "y": {"field": "wlo", "type": "quantitative"}}},
  {"data": {"name": "box"},
   "mark": {"type": "tick", "orient": "horizontal", "color": "#ff0000", "thickness": 5, "size": 86, "opacity": 1},
   "encoding": {"x": {"field": "b", "type": "quantitative"}, "y": {"field": "med", "type": "quantitative"}}},
  {"data": {"name": "fl"},
   "mark": {"type": "point", "filled": false, "color": "black", "size": 260, "strokeWidth": 3, "opacity": 1},
   "encoding": {"x": {"field": "b", "type": "quantitative"}, "y": {"field": "f", "type": "quantitative"}}},
  {"data": {"name": "box"},
   "mark": {"type": "point", "filled": true, "color": "black", "size": 300, "opacity": 1},
   "encoding": {"x": {"field": "b", "type": "quantitative"}, "y": {"field": "mean", "type": "quantitative"}}}
 ]
},
{
 "width": 1497, "height": 1101,
 "title": {"text": "B", "anchor": "start", "align": "center", "frame": "group", "baseline": "alphabetic", "offset": -16, "fontSize": 50, "fontWeight": "normal", "font": "DejaVu Sans", "color": "black"},
 "data": {"name": "f1"},
 "encoding": {
   "x": {"field": "b", "type": "quantitative", "scale": {"domain": [-5.4, 3.4], "nice": false, "zero": false},
         "axis": {"values": [-5,-4,-3,-2,-1,0,1,2,3], "format": "d", "title": "BLOSUM score", "titlePadding": 17}},
   "y": {"field": "f1", "type": "quantitative", "scale": {"domain": [-0.0375, 0.7875], "nice": false, "zero": false},
         "axis": {"values": [0,0.1,0.2,0.3,0.4,0.5,0.6,0.7], "format": ".1f", "title": "F1 score", "minExtent": 106, "maxExtent": 106, "titlePadding": 26}},
   "color": {"field": "series", "type": "nominal", "scale": {"domain": ["Neutral","Deleterious","Average"], "range": ["#2f8bf0","#ff6a13","#40dc10"]},
             "legend": {"title": null, "orient": "none", "legendX": 515, "legendY": 842, "padding": 14, "fillColor": "rgba(255,255,255,0.8)", "strokeColor": "#cccccc", "cornerRadius": 8, "symbolSize": 10000, "symbolStrokeWidth": 0, "symbolOpacity": 1, "symbolOffset": 6, "labelOffset": 41, "clipHeight": 50, "rowPadding": 23.5}}
 },
 "layer": [
  {"mark": {"type": "line", "strokeDash": [14, 7], "strokeWidth": 4.5}},
  {"transform": [{"filter": "datum.series === 'Neutral'"}],
   "mark": {"type": "point", "filled": true, "shape": "triangle-up", "size": 650, "opacity": 1}},
  {"transform": [{"filter": "datum.series === 'Deleterious'"}],
   "mark": {"type": "point", "filled": true, "shape": "square", "size": 620, "opacity": 1}},
  {"transform": [{"filter": "datum.series === 'Average'"}],
   "mark": {"type": "point", "filled": true, "shape": "circle", "size": 620, "opacity": 1}},
  {"mark": {"type": "point", "filled": true, "size": 10, "opacity": 0},
   "encoding": {
    "shape": {"field": "series", "type": "nominal",
              "scale": {"domain": ["Neutral","Deleterious","Average"], "range": [
                "M-1,-0.045H-0.72V0.045H-1Z M-0.58,-0.045H-0.3V0.045H-0.58Z M0.3,-0.045H0.58V0.045H0.3Z M0.72,-0.045H1V0.045H0.72Z M0,-0.3L0.3,0.26H-0.3Z",
                "M-1,-0.045H-0.72V0.045H-1Z M-0.58,-0.045H-0.3V0.045H-0.58Z M0.3,-0.045H0.58V0.045H0.3Z M0.72,-0.045H1V0.045H0.72Z M-0.24,-0.24H0.24V0.24H-0.24Z",
                "M-1,-0.045H-0.72V0.045H-1Z M-0.58,-0.045H-0.3V0.045H-0.58Z M0.3,-0.045H0.58V0.045H0.3Z M0.72,-0.045H1V0.045H0.72Z M-0.27,0A0.27,0.27,0,1,1,0.27,0A0.27,0.27,0,1,1,-0.27,0Z"]},
              "legend": {"title": null, "orient": "none", "legendX": 515, "legendY": 842, "padding": 14, "fillColor": "rgba(255,255,255,0.8)", "strokeColor": "#cccccc", "cornerRadius": 8, "symbolSize": 10000, "symbolStrokeWidth": 0, "symbolOpacity": 1, "symbolOffset": 6, "labelOffset": 41, "clipHeight": 50, "rowPadding": 23.5}}
   }}
 ]
}
]
}
